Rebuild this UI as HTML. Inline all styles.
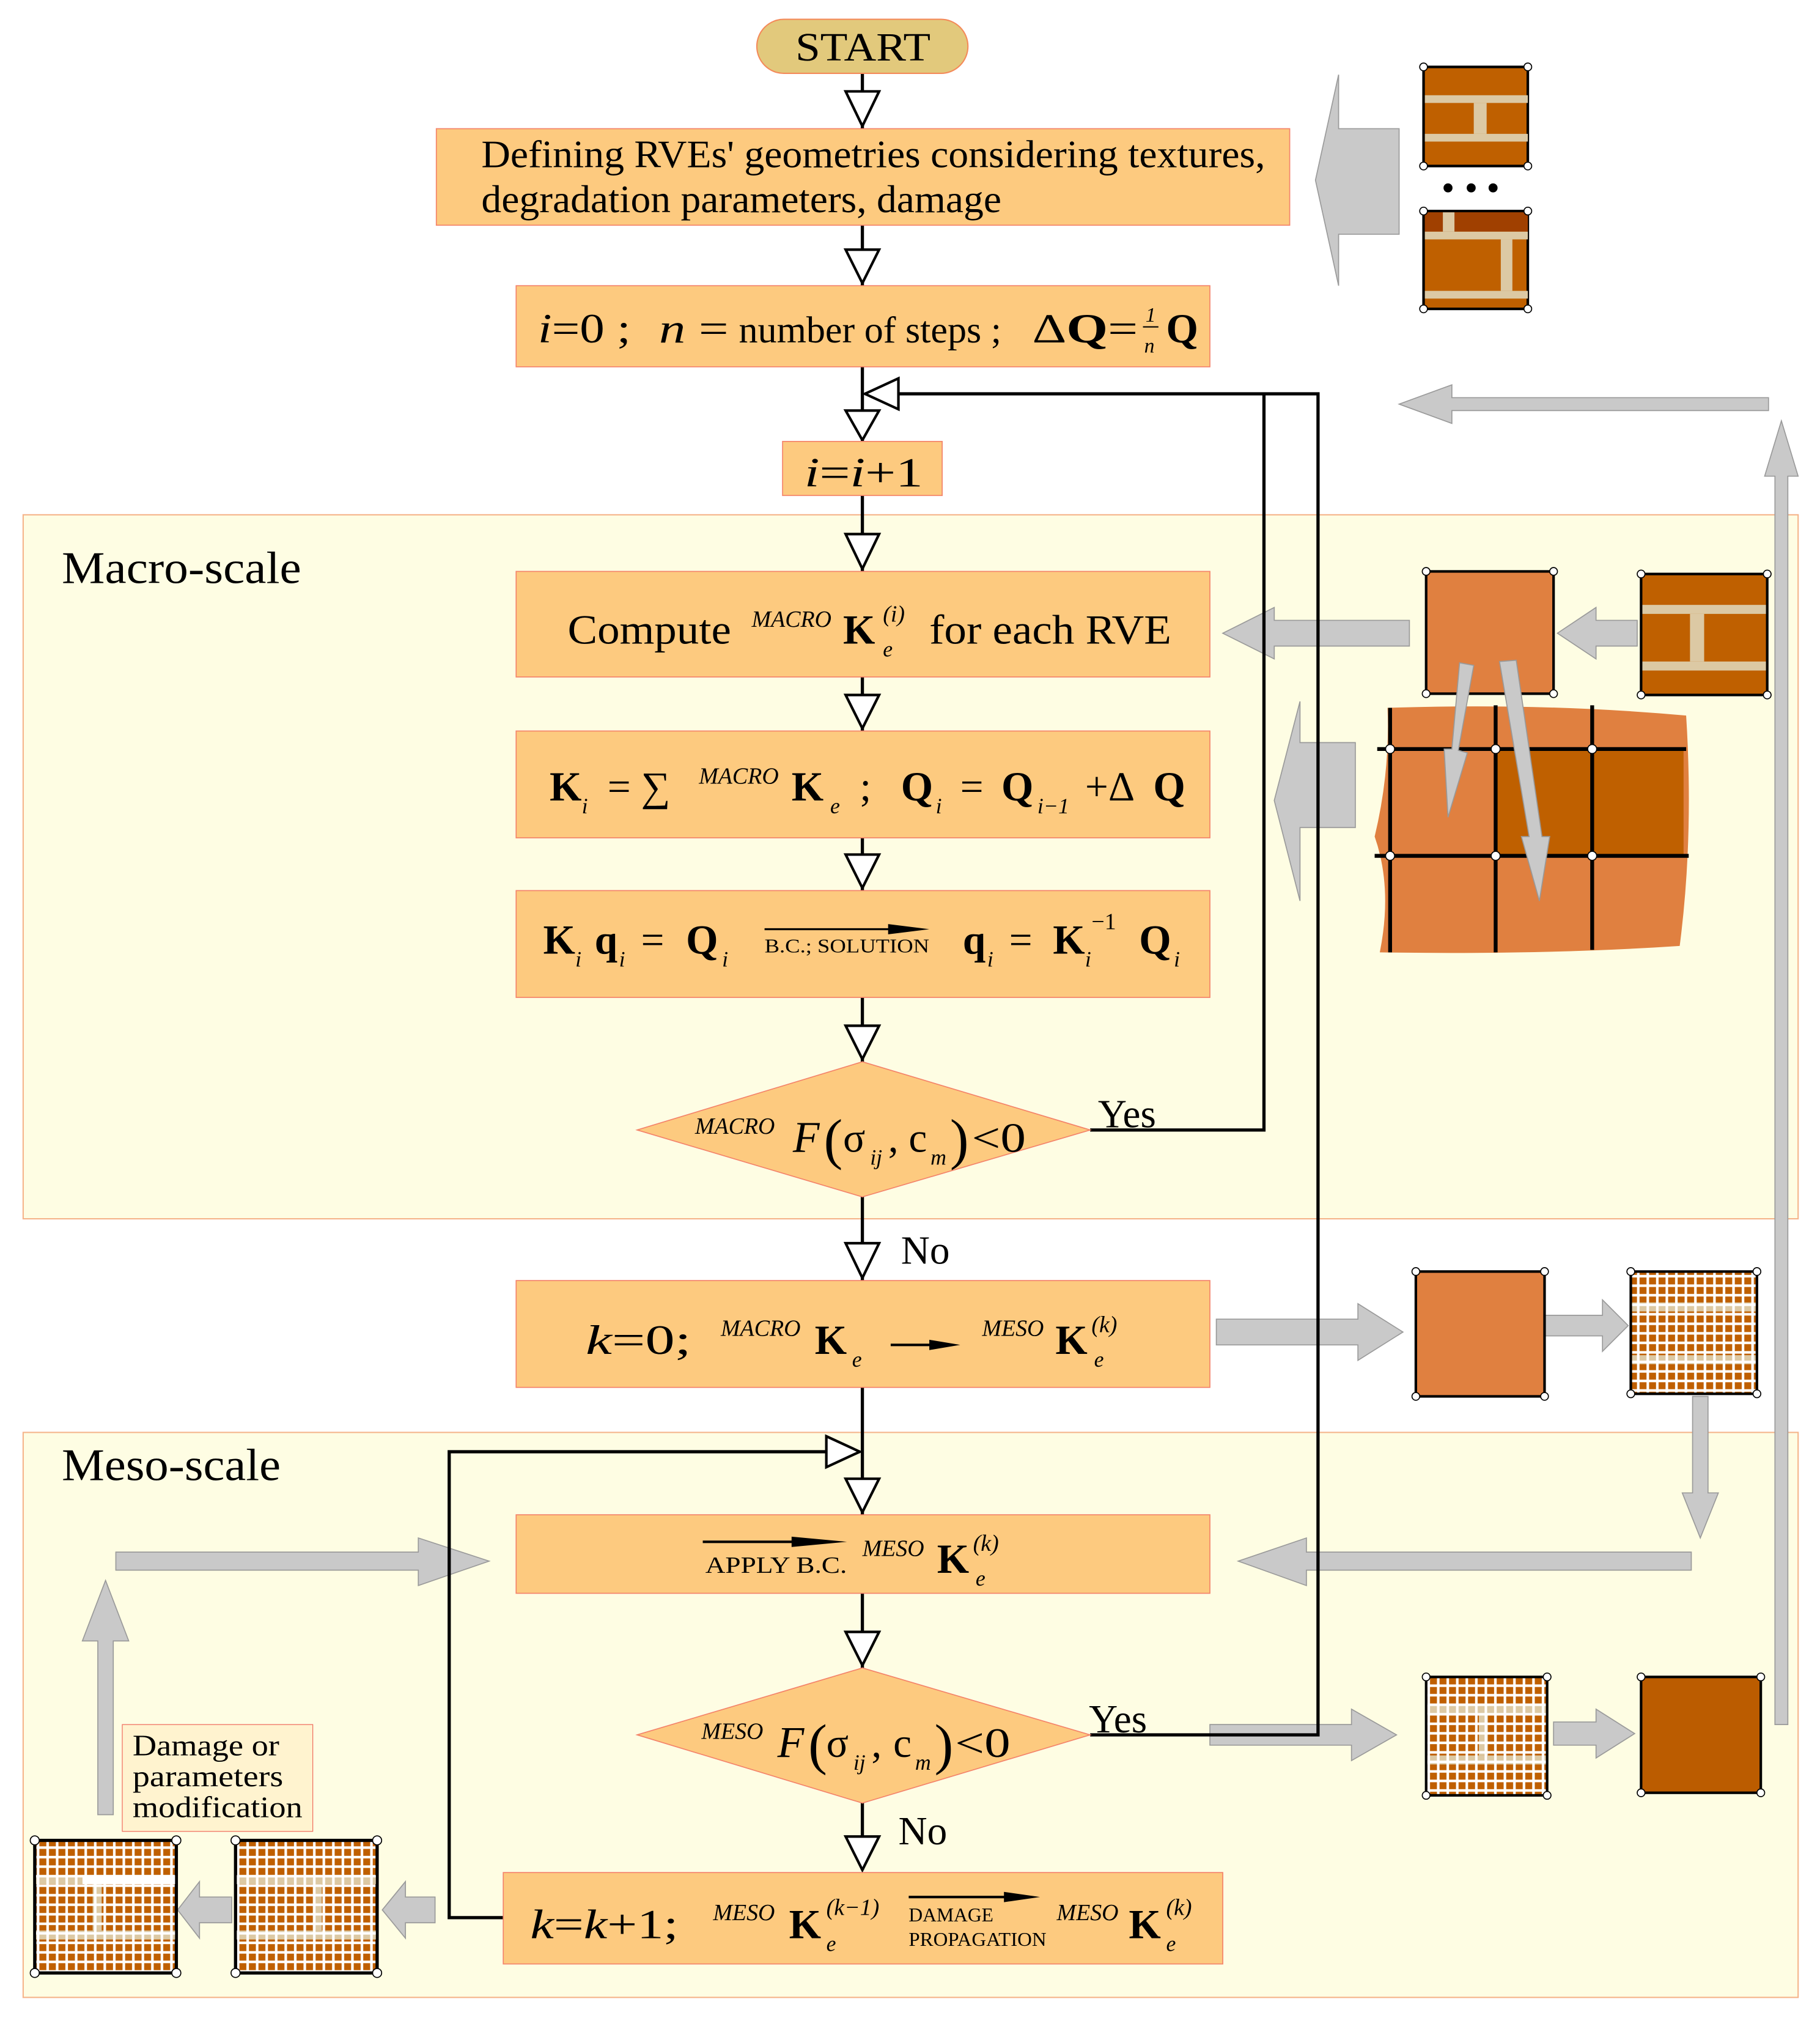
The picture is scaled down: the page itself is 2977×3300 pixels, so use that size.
<!DOCTYPE html>
<html><head><meta charset="utf-8"><style>
html,body{margin:0;padding:0;background:#fff}
svg{display:block}
text{font-family:"Liberation Serif","DejaVu Serif",serif;fill:#000}
.it{font-style:italic}
.b{font-weight:bold}
</style></head><body>
<svg width="2977" height="3300" viewBox="0 0 1414 1568" preserveAspectRatio="none" xmlns="http://www.w3.org/2000/svg">
<defs>
<pattern id="g" width="7.4" height="7.4" patternUnits="userSpaceOnUse">
<rect width="7.4" height="7.4" fill="#fff"/><rect x="1" y="1" width="5.4" height="5.4" fill="#bf5f00"/>
</pattern>
<pattern id="t" width="7.4" height="7.4" patternUnits="userSpaceOnUse">
<rect width="7.4" height="7.4" fill="#fff"/><rect x="1" y="1" width="5.4" height="5.4" fill="#dcc9a4"/>
</pattern>
</defs>
<rect x="18" y="400" width="1379" height="547" fill="#fefde3" stroke="#f5b48a" stroke-width="1"/>
<rect x="18" y="1113" width="1379" height="439" fill="#fefde3" stroke="#f5b48a" stroke-width="1"/>
<text x="48" y="453" font-size="35" textLength="186" lengthAdjust="spacingAndGlyphs">Macro-scale</text>
<text x="48" y="1150" font-size="35" textLength="170" lengthAdjust="spacingAndGlyphs">Meso-scale</text>

<g fill="#c9c9c9" stroke="#9a9a9a" stroke-width="0.8">
<polygon points="1087,100 1040,100 1040,58 1022,140 1040,222 1040,182 1087,182"/>
<polygon points="1374,309 1128,309 1128,299 1087,314 1128,329 1128,319 1374,319"/>
<polygon points="1379,1340 1379,370 1371,370 1384,327 1397,370 1389,370 1389,1340" />
<polygon points="1095,482 990,482 990,472 950,492 990,512 990,502 1095,502"/>
<polygon points="1272,482 1240,482 1240,472 1210,492 1240,512 1240,502 1272,502"/>
<polygon points="1053,577 1010,577 1010,545 990,622 1010,700 1010,643 1053,643"/>
<polygon points="945,1025 1055,1025 1055,1013 1090,1035 1055,1057 1055,1045 945,1045"/>
<polygon points="1200,1022 1245,1022 1245,1010 1265,1030 1245,1050 1245,1038 1200,1038"/>
<polygon points="1315,1085 1327,1085 1327,1160 1335,1160 1321,1195 1307,1160 1315,1160"/>
<polygon points="1314,1206 1015,1206 1015,1195 962,1213 1015,1232 1015,1220 1314,1220"/>
<polygon points="90,1206 325,1206 325,1195 380,1213 325,1232 325,1220 90,1220"/>
<polygon points="76,1410 88,1410 88,1275 100,1275 82,1228 64,1275 76,1275"/>
<polygon points="940,1340 1050,1340 1050,1328 1085,1348 1050,1368 1050,1356 940,1356"/>
<polygon points="1207,1338 1240,1338 1240,1328 1270,1347 1240,1366 1240,1356 1207,1356"/>
<polygon points="180,1474 155,1474 155,1462 138,1484 155,1506 155,1494 180,1494"/>
<polygon points="338,1474 315,1474 315,1462 297,1484 315,1506 315,1494 338,1494"/>
</g>

<g stroke="#000" stroke-width="2">
<rect x="1106" y="52" width="81" height="77" fill="#bf6000"/>
<rect x="1106" y="164" width="81" height="76" fill="#bf6000"/>
</g>
<g fill="#dcc9a4">
<rect x="1107" y="74" width="80" height="6"/><rect x="1107" y="104" width="80" height="6"/><rect x="1145" y="80" width="10" height="24"/>
<rect x="1107" y="165" width="80" height="15" fill="#a04000"/>
<rect x="1107" y="180" width="80" height="6"/><rect x="1107" y="226" width="80" height="6"/><rect x="1121" y="165" width="9" height="15"/><rect x="1166" y="186" width="9" height="40"/>
</g>
<circle cx="1125" cy="146" r="3.5"/><circle cx="1143" cy="146" r="3.5"/><circle cx="1160" cy="146" r="3.5"/>

<rect x="1108" y="444" width="99" height="95" fill="#e08040" stroke="#000" stroke-width="2"/>
<rect x="1275" y="446" width="98" height="94" fill="#bf6000" stroke="#000" stroke-width="2"/>
<g fill="#dcc9a4"><rect x="1276" y="470" width="96" height="7"/><rect x="1276" y="514" width="96" height="7"/><rect x="1313" y="477" width="11" height="37"/></g>

<path d="M1078,550 Q1200,546 1310,556 Q1316,650 1305,735 Q1200,742 1072,740 Q1082,690 1068,650 Q1080,600 1078,550 Z" fill="#e08040"/>
<rect x="1162" y="582" width="75" height="83" fill="#bf6000"/>
<rect x="1237" y="582" width="71" height="83" fill="#bf6000"/>
<g stroke="#000" stroke-width="3">
<line x1="1070" y1="582" x2="1310" y2="582"/><line x1="1068" y1="665" x2="1312" y2="665"/>
<line x1="1080" y1="550" x2="1080" y2="740"/><line x1="1162" y1="548" x2="1162" y2="740"/><line x1="1237" y1="548" x2="1237" y2="738"/>
</g>
<g fill="#fff" stroke="#000" stroke-width="0.8">
<circle cx="1080" cy="582" r="3.5"/><circle cx="1162" cy="582" r="3.5"/><circle cx="1237" cy="582" r="3.5"/>
<circle cx="1080" cy="665" r="3.5"/><circle cx="1162" cy="665" r="3.5"/><circle cx="1237" cy="665" r="3.5"/>
</g>
<g fill="#c9c9c9" stroke="#999" stroke-width="0.8">
<polygon points="1134,515 1145,517 1133,583 1140,585 1125,635 1122,582 1128,582"/>
<polygon points="1165,514 1178,513 1198,650 1204,650 1196,700 1182,650 1188,650"/>
</g>

<rect x="1100" y="988" width="100" height="97" fill="#e08040" stroke="#000" stroke-width="2"/>
<rect x="1267" y="988" width="98" height="95" fill="url(#g)" stroke="#000" stroke-width="2"/>
<rect x="1108" y="1303" width="94" height="92" fill="url(#g)" stroke="#000" stroke-width="2"/>
<rect x="1275" y="1303" width="93" height="90" fill="#bb5c00" stroke="#000" stroke-width="2"/>
<rect x="27" y="1430" width="110" height="103" fill="url(#g)" stroke="#000" stroke-width="2.5"/>
<rect x="183" y="1430" width="110" height="103" fill="url(#g)" stroke="#000" stroke-width="2.5"/>
<g fill="url(#t)">
<rect x="184" y="1457" width="108" height="7"/><rect x="184" y="1500" width="108" height="7"/><rect x="243" y="1464" width="7" height="36"/>
<rect x="28" y="1457" width="36" height="7"/><rect x="28" y="1500" width="108" height="7"/><rect x="72" y="1464" width="7" height="36"/>
<rect x="1268" y="1012" width="96" height="7"/><rect x="1268" y="1053" width="96" height="7"/>
<rect x="1109" y="1325" width="92" height="7"/><rect x="1109" y="1364" width="92" height="7"/><rect x="1149" y="1332" width="7" height="32"/>
</g>
<rect x="64" y="1457" width="72" height="7" fill="#fff"/>
<g fill="#fff" stroke="#000" stroke-width="0.8">
<circle cx="1106" cy="52" r="3"/><circle cx="1187" cy="52" r="3"/><circle cx="1106" cy="129" r="3"/><circle cx="1187" cy="129" r="3"/>
<circle cx="1106" cy="164" r="3"/><circle cx="1187" cy="164" r="3"/><circle cx="1106" cy="240" r="3"/><circle cx="1187" cy="240" r="3"/>
<circle cx="1108" cy="444" r="3"/><circle cx="1207" cy="444" r="3"/><circle cx="1108" cy="539" r="3"/><circle cx="1207" cy="539" r="3"/>
<circle cx="1275" cy="446" r="3"/><circle cx="1373" cy="446" r="3"/><circle cx="1275" cy="540" r="3"/><circle cx="1373" cy="540" r="3"/>
<circle cx="1100" cy="988" r="3"/><circle cx="1200" cy="988" r="3"/><circle cx="1100" cy="1085" r="3"/><circle cx="1200" cy="1085" r="3"/>
<circle cx="1267" cy="988" r="3"/><circle cx="1365" cy="988" r="3"/><circle cx="1267" cy="1083" r="3"/><circle cx="1365" cy="1083" r="3"/>
<circle cx="1108" cy="1303" r="3"/><circle cx="1202" cy="1303" r="3"/><circle cx="1108" cy="1395" r="3"/><circle cx="1202" cy="1395" r="3"/>
<circle cx="1275" cy="1303" r="3"/><circle cx="1368" cy="1303" r="3"/><circle cx="1275" cy="1393" r="3"/><circle cx="1368" cy="1393" r="3"/>
<circle cx="27" cy="1430" r="3.5"/><circle cx="137" cy="1430" r="3.5"/><circle cx="27" cy="1533" r="3.5"/><circle cx="137" cy="1533" r="3.5"/>
<circle cx="183" cy="1430" r="3.5"/><circle cx="293" cy="1430" r="3.5"/><circle cx="183" cy="1533" r="3.5"/><circle cx="293" cy="1533" r="3.5"/>
</g>

<g stroke="#000" stroke-width="2.5" fill="none">
<line x1="670" y1="57" x2="670" y2="1453"/>
<polyline points="847,878 982,878 982,306"/>
<polyline points="847,1348 1024,1348 1024,306 672,306"/>
<polyline points="391,1490 349,1490 349,1128 668,1128"/>
</g>
<g fill="#fff" stroke="#000" stroke-width="2">
<polygon points="657,71 683,71 670,98"/>
<polygon points="657,194 683,194 670,220"/>
<polygon points="657,319 683,319 670,342"/>
<polygon points="657,415 683,415 670,442"/>
<polygon points="657,540 683,540 670,566"/>
<polygon points="657,664 683,664 670,690"/>
<polygon points="657,797 683,797 670,823"/>
<polygon points="657,966 683,966 670,993"/>
<polygon points="657,1149 683,1149 670,1175"/>
<polygon points="657,1268 683,1268 670,1294"/>
<polygon points="657,1427 683,1427 670,1453"/>
<polygon points="698,294 698,318 672,306"/>
<polygon points="642,1116 642,1140 668,1128"/>
</g>

<g fill="#fdca7f" stroke="#f4836a" stroke-width="0.8">
<rect x="339" y="100" width="663" height="75"/>
<rect x="401" y="222" width="539" height="63"/>
<rect x="608" y="343" width="124" height="42"/>
<rect x="401" y="444" width="539" height="82"/>
<rect x="401" y="568" width="539" height="83"/>
<rect x="401" y="692" width="539" height="83"/>
<polygon points="495,878 670,825 847,878 670,930"/>
<rect x="401" y="995" width="539" height="83"/>
<rect x="401" y="1177" width="539" height="61"/>
<polygon points="495,1348 670,1296 847,1348 670,1401"/>
<rect x="391" y="1455" width="559" height="71"/>
</g>
<rect x="95" y="1340" width="148" height="83" fill="#fff3cf" stroke="#f07060" stroke-width="0.6"/>
<rect x="588" y="15" width="164" height="42" rx="21" fill="#e2c97c" stroke="#f48a5a" stroke-width="1"/>

<text x="618" y="47" font-size="31" textLength="105" lengthAdjust="spacingAndGlyphs">START</text>
<text x="374" y="130" font-size="30" textLength="609" lengthAdjust="spacingAndGlyphs">Defining RVEs' geometries considering textures,</text>
<text x="374" y="165" font-size="30" textLength="404" lengthAdjust="spacingAndGlyphs">degradation parameters, damage</text>

<text x="418" y="266" font-size="32" textLength="72" lengthAdjust="spacingAndGlyphs"><tspan class="it">i</tspan>=0 ;</text>
<text x="512" y="266" font-size="32" textLength="54" lengthAdjust="spacingAndGlyphs"><tspan class="it">n</tspan> =</text>
<text x="574" y="266" font-size="29" textLength="204" lengthAdjust="spacingAndGlyphs">number of steps ;</text>
<text x="802" y="266" font-size="32" textLength="82" lengthAdjust="spacingAndGlyphs">Δ<tspan class="b">Q</tspan>=</text>
<text x="890" y="250" font-size="16" class="it">1</text><line x1="888" y1="254" x2="900" y2="254" stroke="#000" stroke-width="1"/><text x="889" y="274" font-size="16" class="it">n</text>
<text x="906" y="266" font-size="32" class="b">Q</text>

<text x="625" y="378" font-size="32" textLength="92" lengthAdjust="spacingAndGlyphs"><tspan class="it">i</tspan>=<tspan class="it">i</tspan>+1</text>

<text x="441" y="500" font-size="32" textLength="127" lengthAdjust="spacingAndGlyphs">Compute</text>
<text x="584" y="487" font-size="18" class="it">MACRO</text>
<text x="655" y="500" font-size="32" class="b">K</text>
<text x="686" y="510" font-size="17" class="it">e</text><text x="686" y="483" font-size="18" class="it">(i)</text>
<text x="722" y="500" font-size="32" textLength="188" lengthAdjust="spacingAndGlyphs">for each RVE</text>

<text x="427" y="622" font-size="32" class="b">K</text><text x="452" y="632" font-size="17" class="it">i</text>
<text x="472" y="622" font-size="32">= ∑</text>
<text x="543" y="609" font-size="18" class="it">MACRO</text>
<text x="615" y="622" font-size="32" class="b">K</text><text x="645" y="632" font-size="17" class="it">e</text>
<text x="668" y="622" font-size="32">;</text>
<text x="700" y="622" font-size="32" class="b">Q</text><text x="727" y="632" font-size="17" class="it">i</text>
<text x="746" y="622" font-size="32">=</text>
<text x="778" y="622" font-size="32" class="b">Q</text><text x="806" y="632" font-size="17" class="it">i−1</text>
<text x="843" y="622" font-size="32">+Δ</text>
<text x="896" y="622" font-size="32" class="b">Q</text>

<text x="422" y="741" font-size="32" class="b">K</text><text x="447" y="751" font-size="17" class="it">i</text>
<text x="462" y="741" font-size="32" class="b">q</text><text x="481" y="751" font-size="17" class="it">i</text>
<text x="498" y="741" font-size="32">=</text>
<text x="533" y="741" font-size="32" class="b">Q</text><text x="561" y="751" font-size="17" class="it">i</text>
<line x1="594" y1="722" x2="715" y2="722" stroke="#000" stroke-width="1.5"/><polygon points="690,718 722,722 690,726"/>
<text x="594" y="740" font-size="15" textLength="128" lengthAdjust="spacingAndGlyphs">B.C.; SOLUTION</text>
<text x="748" y="741" font-size="32" class="b">q</text><text x="767" y="751" font-size="17" class="it">i</text>
<text x="784" y="741" font-size="32">=</text>
<text x="818" y="741" font-size="32" class="b">K</text><text x="843" y="751" font-size="17" class="it">i</text><text x="848" y="722" font-size="18">−1</text>
<text x="885" y="741" font-size="32" class="b">Q</text><text x="912" y="751" font-size="17" class="it">i</text>

<text x="540" y="881" font-size="18" class="it">MACRO</text>
<text x="616" y="895" font-size="34" class="it">F</text>
<text x="640" y="900" font-size="44" font-weight="100">(</text>
<text x="655" y="895" font-size="32">σ</text><text x="676" y="905" font-size="17" class="it">ij</text>
<text x="690" y="895" font-size="32">,</text>
<text x="706" y="895" font-size="32">c</text><text x="723" y="905" font-size="17" class="it">m</text>
<text x="738" y="900" font-size="44">)</text>
<text x="755" y="895" font-size="32" textLength="42" lengthAdjust="spacingAndGlyphs">&lt;0</text>
<text x="853" y="876" font-size="31">Yes</text>
<text x="700" y="982" font-size="31">No</text>

<text x="455" y="1052" font-size="32" textLength="82" lengthAdjust="spacingAndGlyphs"><tspan class="it">k</tspan>=0;</text>
<text x="560" y="1038" font-size="18" class="it">MACRO</text>
<text x="633" y="1052" font-size="32" class="b">K</text><text x="662" y="1062" font-size="17" class="it">e</text>
<line x1="692" y1="1045" x2="730" y2="1045" stroke="#000" stroke-width="2"/><polygon points="722,1041 746,1045 722,1049"/>
<text x="763" y="1038" font-size="18" class="it">MESO</text>
<text x="820" y="1052" font-size="32" class="b">K</text><text x="850" y="1062" font-size="17" class="it">e</text><text x="848" y="1035" font-size="18" class="it">(k)</text>

<line x1="546" y1="1198" x2="640" y2="1198" stroke="#000" stroke-width="2"/><polygon points="615,1194 658,1198 615,1202"/>
<text x="548" y="1222" font-size="18" textLength="110" lengthAdjust="spacingAndGlyphs">APPLY  B.C.</text>
<text x="670" y="1209" font-size="18" class="it">MESO</text>
<text x="728" y="1222" font-size="32" class="b">K</text><text x="758" y="1232" font-size="17" class="it">e</text><text x="756" y="1205" font-size="18" class="it">(k)</text>

<text x="545" y="1351" font-size="18" class="it">MESO</text>
<text x="604" y="1365" font-size="34" class="it">F</text>
<text x="628" y="1370" font-size="44">(</text>
<text x="642" y="1365" font-size="32">σ</text><text x="663" y="1375" font-size="17" class="it">ij</text>
<text x="677" y="1365" font-size="32">,</text>
<text x="694" y="1365" font-size="32">c</text><text x="711" y="1375" font-size="17" class="it">m</text>
<text x="726" y="1370" font-size="44">)</text>
<text x="742" y="1365" font-size="32" textLength="43" lengthAdjust="spacingAndGlyphs">&lt;0</text>
<text x="846" y="1346" font-size="31">Yes</text>
<text x="698" y="1433" font-size="31">No</text>

<text x="412" y="1506" font-size="32" textLength="115" lengthAdjust="spacingAndGlyphs"><tspan class="it">k</tspan>=<tspan class="it">k</tspan>+1;</text>
<text x="554" y="1492" font-size="18" class="it">MESO</text>
<text x="613" y="1506" font-size="32" class="b">K</text><text x="642" y="1516" font-size="17" class="it">e</text><text x="642" y="1488" font-size="18" class="it">(k−1)</text>
<line x1="706" y1="1474" x2="790" y2="1474" stroke="#000" stroke-width="2"/><polygon points="780,1470 808,1474 780,1478"/>
<text x="706" y="1493" font-size="15">DAMAGE</text>
<text x="706" y="1512" font-size="15" textLength="107" lengthAdjust="spacingAndGlyphs">PROPAGATION</text>
<text x="821" y="1492" font-size="18" class="it">MESO</text>
<text x="877" y="1506" font-size="32" class="b">K</text><text x="906" y="1516" font-size="17" class="it">e</text><text x="906" y="1488" font-size="18" class="it">(k)</text>

<text x="103" y="1364" font-size="23" textLength="114" lengthAdjust="spacingAndGlyphs">Damage or</text>
<text x="103" y="1388" font-size="23" textLength="117" lengthAdjust="spacingAndGlyphs">parameters</text>
<text x="103" y="1412" font-size="23" textLength="132" lengthAdjust="spacingAndGlyphs">modification</text>
</svg>
</body></html>
